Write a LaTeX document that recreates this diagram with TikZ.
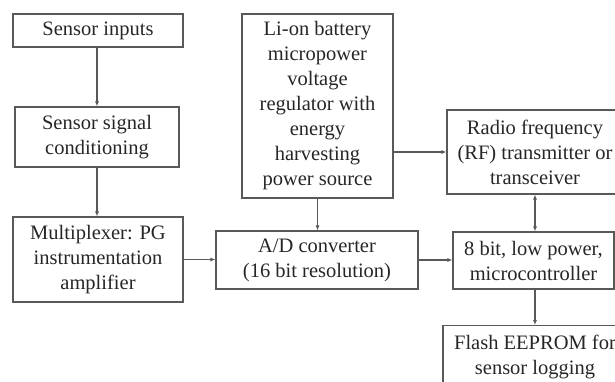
\documentclass[tikz,border=0pt]{standalone}
\usepackage{fontspec}
\setmainfont{Liberation Serif}
\usetikzlibrary{arrows.meta}
\begin{document}
\begin{tikzpicture}[x=1pt,y=-1pt,
  blk/.style={draw=black!65,line width=1.1pt,align=center,inner sep=0pt,
    font=\fontsize{20.5}{25}\selectfont,text=black!85},
  conn/.style={draw=black!65,line width=1.1pt,-{Latex[length=5pt,width=4pt]}},
  conn2/.style={draw=black!65,line width=1.1pt,{Latex[length=5pt,width=4pt]}-{Latex[length=5pt,width=4pt]}}]
\useasboundingbox (0,0) rectangle (615,381);
\clip (0,0) rectangle (615,381);
\node[blk,minimum width=170pt,minimum height=33pt] (si) at (98,30.5) {Sensor inputs};
\node[blk,minimum width=164pt,minimum height=60pt] (ssc) at (97,137) {Sensor signal\\conditioning};
\node[blk,minimum width=170pt,minimum height=85pt] (mux) at (98,259.5) {Multiplexer: PG\\instrumentation\\amplifier};
\node[blk,minimum width=151pt,minimum height=184pt] (li) at (317.5,106) {Li-on battery\\micropower\\voltage\\regulator with\\energy\\harvesting\\power source};
\node[blk,minimum width=202pt,minimum height=58pt] (ad) at (317,260) {A/D converter\\(16 bit resolution)};
\node[blk,minimum width=176pt,minimum height=84pt] (rf) at (535,152) {Radio frequency\\(RF) transmitter or\\transceiver};
\node[blk,minimum width=161pt,minimum height=57pt] (mc) at (533.5,260.5) {8 bit, low power,\\microcontroller};
\node[blk,minimum width=184pt,minimum height=62pt,anchor=north] (fl) at (535,325) {Flash EEPROM for\\sensor logging};
\draw[conn] (si.south -| ssc.north) -- (ssc.north);
\draw[conn] (ssc.south) -- (ssc.south |- mux.north);
\draw[conn] (mux.east) -- (mux.east -| ad.west);
\draw[conn] (li.south) -- (li.south |- ad.north);
\draw[conn] (li.east |- rf.west) -- (rf.west);
\draw[conn] (ad.east) -- (ad.east -| mc.west);
\draw[conn2] (rf.south) -- (rf.south |- mc.north);
\draw[conn] (mc.south -| fl.north) -- (fl.north);
\end{tikzpicture}
\end{document}
